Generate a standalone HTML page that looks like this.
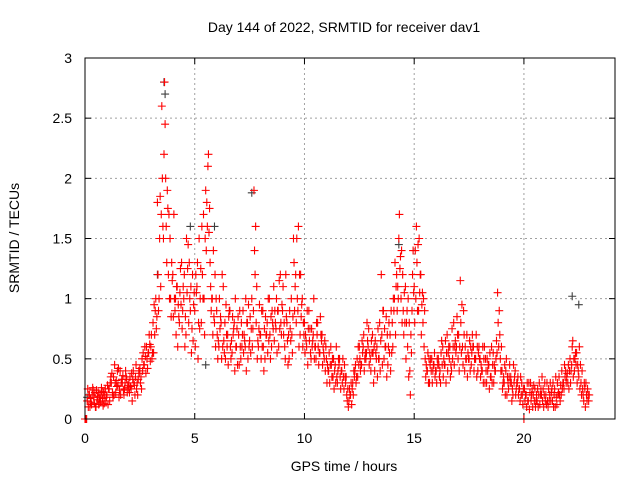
<!DOCTYPE html>
<html><head><meta charset="utf-8"><style>
body{margin:0;background:#fff}
svg text{font-family:"Liberation Sans",sans-serif;fill:#000}
</style></head><body>
<svg id="chart" width="640" height="480" xmlns="http://www.w3.org/2000/svg">
<rect width="640" height="480" fill="#fff"/>
<text x="344" y="32" font-size="14" text-anchor="middle">Day 144 of 2022, SRMTID for receiver dav1</text>
<text x="344" y="471" font-size="14" text-anchor="middle">GPS time / hours</text>
<text transform="translate(19,238) rotate(-90)" font-size="14" text-anchor="middle">SRMTID / TECUs</text>
<g id="grid"></g><g id="ticks"></g><g id="marks"></g>
<rect x="85" y="58" width="530" height="361" fill="none" stroke="#000" stroke-width="1"/>
</svg>
<script>
const xTicks=[0,5,10,15,20];
const yTicks=[0,0.5,1,1.5,2,2.5,3];
const yTickLabels=["0","0.5","1","1.5","2","2.5","3"];
const tStart=0, tStep=0.1;
const tecA=[0,0.15,0.2,0.12,0.18,0.1,0.22,0.14,0.17,0.2,
0.2,0.25,0.3,0.35,0.22,0.28,0.4,0.3,0.25,0.33,
0.3,0.25,0.4,0.35,0.2,0.42,0.5,0.45,0.6,0.55,
0.6,0.8,0.9,1.8,1.5,2.6,2.2,1.6,1.2,1.0,
1.2,0.9,1.1,0.8,1.3,1.0,0.7,1.45,0.9,1.2,
0.9,1.1,1.5,0.8,1.7,1.9,2.1,1.3,1.0,0.8,
0.9,0.6,0.8,1.1,0.5,0.7,0.9,0.55,0.8,0.6,
0.7,0.5,0.9,0.6,0.8,0.65,1.0,1.9,0.8,0.6,
0.7,0.9,0.5,0.8,1.0,0.6,1.1,0.75,0.9,1.2,
0.9,0.6,0.8,0.5,1.0,1.5,1.2,0.9,0.7,1.0,
0.8,0.6,0.9,0.5,0.7,0.6,0.8,0.55,0.7,0.5,
0.5,0.4,0.6,0.35,0.45,0.3,0.5,0.4,0.25,0.35,
0.1,0.2,0.3,0.4,0.5,0.6,0.45,0.7,0.5,0.6,
0.5,0.7,0.4,0.6,0.5,1.2,0.9,0.6,0.45,0.7,
0.8,1.0,1.2,1.5,1.0,0.9,1.1,0.6,0.4,0.9,
1.1,1.6,0.9,1.2,0.8,0.5,0.4,0.3,0.5,0.45,
0.4,0.5,0.3,0.6,0.45,0.7,0.5,0.4,0.8,0.55,
0.5,1.15,0.6,0.4,0.7,0.5,0.45,0.6,0.5,0.4,
0.5,0.4,0.6,0.3,0.45,0.35,0.55,0.4,1.05,0.7,
0.4,0.3,0.5,0.25,0.35,0.2,0.4,0.3,0.25,0.3,
0,0.2,0.15,0.3,0.1,0.25,0.15,0.3,0.2,0.1,
0.2,0.1,0.3,0.15,0.25,0.12,0.35,0.2,0.3,0.4,
0.3,0.5,0.6,0.4,0.55,0.35,0.3,0.2,0.1,0.25];
const tecB=[0,0.25,0.1,0.2,0.13,0.24,0.12,0.2,0.11,0.25,
0.28,0.15,0.38,0.2,0.32,0.42,0.2,0.36,0.3,0.22,
0.22,0.38,0.3,0.45,0.33,0.3,0.4,0.6,0.5,0.7,
0.7,0.55,1.0,1.2,1.85,2.0,2.8,1.3,1.7,0.85,
0.85,1.0,0.6,1.05,0.75,1.2,1.5,0.8,1.1,0.65,
0.6,1.3,0.75,1.6,1.0,1.4,2.2,1.1,0.7,1.2,
0.7,1.0,0.5,0.65,0.95,0.45,0.6,0.85,0.4,0.75,
0.45,0.8,0.55,1.0,0.5,0.85,0.6,1.4,1.1,0.75,
0.5,0.6,0.85,0.55,0.7,0.9,0.65,1.0,0.6,0.8,
1.1,0.5,0.65,0.9,0.7,1.3,0.8,1.6,1.2,0.6,
0.55,0.9,0.65,0.75,1.0,0.5,0.6,0.85,0.45,0.65,
0.3,0.55,0.45,0.5,0.3,0.4,0.35,0.3,0.45,0.2,
0.15,0.3,0.2,0.45,0.35,0.5,0.65,0.4,0.55,0.75,
0.4,0.55,0.65,0.35,0.8,0.7,0.5,0.85,0.6,0.4,
0.6,1.3,0.9,1.7,1.4,0.7,0.5,1.0,0.2,1.2,
0.8,1.3,1.5,0.7,1.0,0.35,0.55,0.45,0.3,0.55,
0.3,0.45,0.55,0.35,0.65,0.4,0.6,0.75,0.45,0.6,
0.7,0.8,0.45,0.6,0.35,0.65,0.55,0.4,0.7,0.55,
0.35,0.6,0.3,0.5,0.25,0.6,0.3,0.5,0.8,0.5,
0.25,0.45,0.2,0.35,0.3,0.45,0.2,0.35,0.15,0.2,
0.25,0.1,0.3,0.15,0.2,0.1,0.25,0.12,0.35,0.2,
0.12,0.25,0.15,0.3,0.1,0.3,0.2,0.4,0.25,0.3,
0.45,0.3,0.65,0.5,0.3,0.6,0.2,0.15,0.3,0.2];
const tecC=[0,0.1,0.17,0.26,0.22,0.16,0.18,0.26,0.22,0.15,
0.12,0.3,0.22,0.45,0.27,0.18,0.3,0.24,0.4,0.28,
0.35,0.15,0.28,0.25,0.4,0.35,0.55,0.52,0.42,0.62,
0.5,0.95,0.75,0.9,1.1,1.6,2.45,1.9,1.0,1.3,
1.7,0.7,0.95,1.25,0.9,0.6,1.05,1.3,0.55,0.95,
1.2,0.5,1.0,1.2,0.7,1.8,1.55,0.9,1.4,0.6,
0.5,0.75,1.2,0.55,0.7,0.85,0.5,0.7,1.0,0.45,
0.9,0.6,0.7,0.4,0.95,0.55,0.75,1.2,0.5,0.95,
0.9,0.4,0.7,1.0,0.5,0.8,0.9,0.55,1.15,0.7,
0.7,1.2,0.45,0.75,0.55,0.9,1.5,0.6,0.85,0.8,
0.7,0.45,0.75,0.6,0.5,0.8,0.45,0.7,0.6,0.4,
0.45,0.3,0.35,0.25,0.6,0.5,0.25,0.5,0.35,0.15,
0.25,0.12,0.4,0.3,0.6,0.4,0.55,0.5,0.8,0.45,
0.65,0.3,0.55,0.75,0.4,0.45,0.75,0.35,0.8,0.9,
1.0,0.7,1.1,1.25,0.8,1.05,0.8,0.35,0.7,1.4,
1.4,0.9,1.05,0.95,0.6,0.45,0.3,0.5,0.4,0.35,
0.5,0.35,0.65,0.5,0.3,0.55,0.35,0.5,0.6,0.85,
0.4,0.55,0.9,0.5,0.55,0.4,0.7,0.5,0.35,0.6,
0.45,0.3,0.5,0.4,0.55,0.3,0.45,0.65,0.6,0.4,
0.3,0.2,0.35,0.45,0.15,0.3,0.25,0.2,0.35,0.12,
0.15,0.3,0.08,0.2,0.28,0.15,0.1,0.2,0.15,0.3,
0.3,0.15,0.22,0.1,0.35,0.2,0.15,0.25,0.45,0.35,
0.25,0.4,0.35,0.55,0.45,0.25,0.4,0.3,0.2,0.15];
const tecD=[0,0.2,0.14,0.24,0.1,0.19,0.15,0.23,0.13,0.18,
0.25,0.35,0.18,0.3,0.4,0.24,0.33,0.2,0.35,0.26,
0.27,0.33,0.2,0.3,0.38,0.25,0.45,0.38,0.55,0.48,
0.55,0.7,0.85,1.0,1.7,1.5,2.0,1.75,1.5,1.15,
1.0,1.1,0.85,0.95,1.1,0.85,1.25,1.0,0.75,1.05,
1.05,0.8,1.25,1.0,1.5,1.6,1.75,1.0,0.85,1.0,
0.65,0.85,0.6,0.8,0.6,0.9,0.65,0.75,0.6,0.85,
0.6,0.7,0.65,0.8,0.6,0.75,0.9,1.6,0.65,0.7,
0.6,0.75,0.7,0.65,0.85,0.75,0.8,0.9,0.75,0.95,
0.8,0.85,0.7,0.65,0.85,1.1,1.0,1.2,0.95,0.7,
0.65,0.75,0.55,0.65,0.6,0.7,0.55,0.65,0.55,0.6,
0.4,0.45,0.5,0.4,0.35,0.45,0.4,0.35,0.3,0.25,
0.2,0.25,0.35,0.35,0.45,0.45,0.6,0.55,0.65,0.55,
0.55,0.6,0.5,0.5,0.65,0.9,0.6,0.7,0.55,0.55,
0.9,1.1,1.0,1.35,1.2,0.8,0.9,0.8,0.55,1.05,
1.0,1.45,1.2,1.05,0.9,0.4,0.5,0.4,0.45,0.4,
0.45,0.4,0.45,0.45,0.55,0.6,0.45,0.6,0.65,0.7,
0.6,0.95,0.7,0.5,0.5,0.6,0.6,0.5,0.6,0.5,
0.4,0.5,0.4,0.45,0.35,0.45,0.4,0.55,0.9,0.6,
0.35,0.4,0.3,0.3,0.25,0.35,0.3,0.25,0.2,0.25,
0.2,0.15,0.22,0.25,0.15,0.2,0.2,0.25,0.25,0.15,
0.15,0.2,0.25,0.2,0.18,0.22,0.28,0.3,0.35,0.38,
0.4,0.45,0.5,0.45,0.4,0.45,0.25,0.25,0.15,0.2];
const grayTimes=[0.1,3.3,3.6,3.65,4.8,5.5,5.9,7.6,14.3,22.2,22.5];
const grayValues=[0.18,1.2,2.8,2.7,1.6,0.45,1.6,1.88,1.45,1.02,0.95];

const X0=85,X1=615,Y0=419,Y1=58,XMAX=24.15,YMAX=3;
const sx=v=>X0+v/XMAX*(X1-X0);
const sy=v=>Y0-v/YMAX*(Y0-Y1);
const NS="http://www.w3.org/2000/svg";
function mk(tag,attrs,parent){const e=document.createElementNS(NS,tag);for(const k in attrs)e.setAttribute(k,attrs[k]);parent.appendChild(e);return e;}
const grid=document.getElementById('grid'),ticks=document.getElementById('ticks'),marks=document.getElementById('marks');
xTicks.forEach(t=>{
  const x=sx(t);
  if(t>0){const g=mk('line',{x1:x,x2:x,y1:Y1,y2:Y0,stroke:'#a0a0a0','stroke-dasharray':'2,3'},grid);
  
  }
  mk('line',{x1:x,x2:x,y1:Y0,y2:Y0-6,stroke:'#000'},ticks);
  mk('line',{x1:x,x2:x,y1:Y1,y2:Y1+6,stroke:'#000'},ticks);
  const l=mk('text',{x:x,y:443,'font-size':14,'text-anchor':'middle'},ticks);
  l.textContent=String(t);
  
  
});
yTicks.forEach((t,i)=>{
  const y=sy(t);
  if(t>0&&t<YMAX){const g=mk('line',{x1:X0,x2:X1,y1:y,y2:y,stroke:'#a0a0a0','stroke-dasharray':'2,3'},grid);
  
  }
  mk('line',{x1:X0,x2:X0+6,y1:y,y2:y,stroke:'#000'},ticks);
  mk('line',{x1:X1,x2:X1-6,y1:y,y2:y,stroke:'#000'},ticks);
  const l=mk('text',{x:72,y:y+5,'font-size':14,'text-anchor':'end'},ticks);
  l.textContent=yTickLabels[i];
  
  
});
function plus(t,v,color,name){
  const x=sx(t),y=sy(v),s=4;
  const p=mk('path',{d:`M${x-s},${y}H${x+s}M${x},${y-s}V${y+s}`,stroke:color,'stroke-width':1.1,fill:'none'},marks);
  
  
}
grayTimes.forEach((t,i)=>plus(t,grayValues[i],'#404040','gray-point'));
[tecA,tecB,tecC,tecD].forEach((arr,k)=>arr.forEach((v,i)=>plus(tStart+i*tStep+k*0.025,v,'#ff0000','srmtid-point')));
</script>
</body></html>
